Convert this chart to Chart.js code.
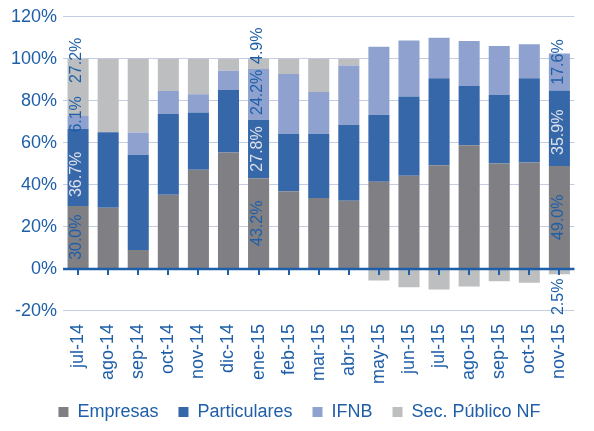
<!DOCTYPE html>
<html>
<head>
<meta charset="utf-8">
<script src="https://cdn.jsdelivr.net/npm/chart.js@4/dist/chart.umd.min.js"></script>
<style>
  body { margin: 0; background: #fff; }
  #wrap { width: 594px; height: 431px; }
</style>
</head>
<body>
<div id="wrap"><canvas id="myChart"></canvas></div>
<script>
const months = ['jul-14', 'ago-14', 'sep-14', 'oct-14', 'nov-14', 'dic-14', 'ene-15', 'feb-15', 'mar-15',
    'abr-15', 'may-15', 'jun-15', 'jul-15', 'ago-15', 'sep-15', 'oct-15', 'nov-15'];
const empresas = [30.0, 29.1, 9.0, 35.3, 47.2, 55.4, 43.2, 37.0, 33.8, 32.4, 41.5, 44.4, 49.3, 58.9, 50.2, 50.7, 49.0];
const particulares = [36.7, 35.9, 45.4, 38.5, 27.3, 29.8, 27.8, 27.3, 30.5, 36.2, 31.9, 37.7, 41.5, 28.2, 32.6, 40.1, 35.9];
const ifnb = [6.1, 0.0, 10.5, 10.9, 8.7, 9.1, 24.2, 28.5, 19.9, 28.2, 32.4, 26.6, 19.2, 21.4, 23.3, 16.1, 17.6];
const secPublico = [27.2, 35.0, 35.1, 15.3, 16.8, 5.7, 4.9, 7.2, 15.8, 3.2, -5.5, -8.7, -9.8, -8.4, -5.9, -6.6, -2.5];
const yTicks = [-20, 0, 20, 40, 60, 80, 100, 120];
const labelledMonths = [0, 6, 16];

const BLUE = '#1f5fa8';
const FONT = '"Liberation Sans", Arial, sans-serif';

// pixel nudges for the value labels (dataset index -> month index -> dy, + is up)
const labelNudge = {
    1: { 0: -7, 16: -4 },
    2: { 0: 8, 6: 2, 16: 10 },
    3: { 0: 27, 6: 18, 16: -25 }
};

const overlayPlugin = {
    id: 'overlay',
    afterDatasetsDraw(chart) {
        const ctx = chart.ctx;
        const x = chart.scales.x;
        const y = chart.scales.y;
        const y0 = y.getPixelForValue(0);

        // zero line with tick marks
        ctx.save();
        ctx.strokeStyle = BLUE;
        ctx.lineWidth = 2.5;
        ctx.beginPath();
        ctx.moveTo(chart.chartArea.left, y0);
        ctx.lineTo(chart.chartArea.right, y0);
        ctx.stroke();
        ctx.lineWidth = 2;
        months.forEach((m, i) => {
            const px = Math.round(x.getPixelForValue(i));
            ctx.beginPath();
            ctx.moveTo(px, y0);
            ctx.lineTo(px, y0 + 6);
            ctx.stroke();
        });

        // value labels
        ctx.font = '16px ' + FONT;
        ctx.textAlign = 'center';
        ctx.textBaseline = 'middle';
        chart.data.datasets.forEach((ds, di) => {
            const meta = chart.getDatasetMeta(di);
            labelledMonths.forEach(i => {
                const bar = meta.data[i];
                const v = ds.data[i];
                const cy = (bar.y + bar.base) / 2 - ((labelNudge[di] || {})[i] || 0);
                ctx.save();
                ctx.translate(bar.x - 1, cy);
                ctx.rotate(-Math.PI / 2);
                ctx.fillStyle = di === 1 ? '#dde1ea' : BLUE;
                ctx.fillText(Math.abs(v).toFixed(1) + '%', 0, 0);
                ctx.restore();
            });
        });
        ctx.restore();
    }
};

new Chart(document.getElementById('myChart'), {
    type: 'bar',
    data: {
        labels: months,
        datasets: [
            { label: 'Empresas', data: empresas, backgroundColor: '#7f7f84' },
            { label: 'Particulares', data: particulares, backgroundColor: '#3667a9' },
            { label: 'IFNB', data: ifnb, backgroundColor: '#8fa2cf' },
            { label: 'Sec. Público NF', data: secPublico, backgroundColor: '#bdbec0' }
        ]
    },
    options: {
        responsive: true,
        maintainAspectRatio: false,
        animation: false,
        layout: { padding: { left: 5, right: 0, top: 12.5, bottom: 0 } },
        datasets: {
            bar: { categoryPercentage: 1, barPercentage: 0.7, borderWidth: 0 }
        },
        plugins: {
            tooltip: { enabled: false },
            legend: {
                position: 'bottom',
                labels: {
                    boxWidth: 10,
                    boxHeight: 10,
                    padding: 20,
                    color: BLUE,
                    font: { family: FONT, size: 18 }
                }
            }
        },
        scales: {
            x: {
                stacked: true,
                grid: { display: false, drawTicks: false },
                border: { display: false },
                // the rotated labels are measured longer than they draw
                afterFit: axis => { axis.height -= 14; },
                ticks: {
                    autoSkip: false,
                    minRotation: 90,
                    maxRotation: 90,
                    padding: 13,
                    color: BLUE,
                    font: { family: FONT, size: 18 }
                }
            },
            y: {
                stacked: true,
                min: yTicks[0],
                max: yTicks[yTicks.length - 1],
                afterBuildTicks: axis => { axis.ticks = yTicks.map(v => ({ value: v })); },
                grid: { color: '#c5cde3', lineWidth: 1, drawTicks: false },
                border: { display: false },
                ticks: {
                    padding: 6,
                    color: BLUE,
                    font: { family: FONT, size: 18 },
                    callback: v => v + '%'
                }
            }
        }
    },
    plugins: [overlayPlugin]
});
</script>
</body>
</html>
